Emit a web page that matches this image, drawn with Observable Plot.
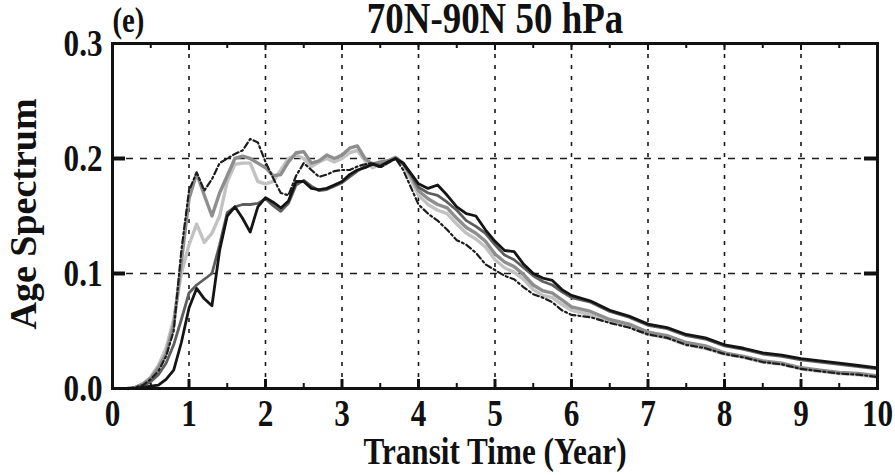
<!DOCTYPE html>
<html><head><meta charset="utf-8">
<script src="https://cdn.jsdelivr.net/npm/d3@7"></script>
<script src="https://cdn.jsdelivr.net/npm/@observablehq/plot@0.6"></script>
<style>body{margin:0;background:#fff} svg{display:block}</style>
</head><body><div id="chart"></div>
<script>
const title = "70N-90N 50 hPa";
const panelLabel = "(e)";
const xLabel = "Transit Time (Year)";
const yLabel = "Age Spectrum";
const xTicks = [0,1,2,3,4,5,6,7,8,9,10];
const xMinorTicks = [0.5,1.5,2.5,3.5,4.5,5.5,6.5,7.5,8.5,9.5];
const yTicks = [0,0.1,0.2,0.3];
const xGrid = [1,2,3,4,5,6,7,8,9];
const yGrid = [0.1,0.2];

const transitTime = [0.2,0.3,0.4,0.5,0.6,0.7,0.8,0.9,
  1.0,1.1,1.2,1.3,1.4,1.5,1.6,1.7,1.8,1.9,
  2.0,2.1,2.2,2.3,2.4,2.5,2.6,2.7,2.8,2.9,
  3.0,3.1,3.2,3.3,3.4,3.5,3.6,3.7,3.8,3.9,
  4.0,4.125,4.25,4.375,4.5,4.625,4.75,4.875,5.0,5.125,5.25,5.375,5.5,5.625,5.75,5.875,6.0,
  6.25,6.5,6.75,7.0,7.25,7.5,7.75,8.0,8.25,8.5,8.75,9.0,9.25,9.5,9.75,10.0];

const specBlack = [0,0,0.001,0.002,0.003,0.008,0.016,0.04,
  0.07,0.087,0.078,0.072,0.12,0.15,0.158,0.148,0.136,0.158,
  0.166,0.162,0.157,0.163,0.18,0.18,0.174,0.173,0.174,0.177,
  0.18,0.186,0.19,0.192,0.195,0.193,0.197,0.2,0.196,0.187,
  0.178,0.174,0.177,0.168,0.158,0.152,0.15,0.138,0.128,0.12,0.119,0.108,0.1,0.096,0.094,0.086,0.081,
  0.076,0.068,0.063,0.056,0.053,0.047,0.044,0.038,0.035,0.031,0.029,0.026,0.024,0.022,0.02,0.018];

const specDarkGray = [0,0,0.002,0.006,0.012,0.022,0.038,0.06,
  0.083,0.09,0.095,0.1,0.125,0.153,0.158,0.16,0.16,0.161,
  0.165,0.159,0.154,0.161,0.177,0.181,0.176,0.172,0.173,0.176,
  0.179,0.184,0.189,0.193,0.196,0.194,0.197,0.2,0.195,0.186,
  0.175,0.17,0.168,0.162,0.155,0.146,0.141,0.135,0.125,0.116,0.112,0.105,0.098,0.093,0.09,0.084,0.079,
  0.075,0.067,0.062,0.055,0.052,0.046,0.043,0.037,0.034,0.03,0.028,0.025,0.023,0.021,0.019,0.017];

const specMidGray = [0,0.001,0.004,0.009,0.018,0.03,0.055,0.11,
  0.165,0.187,0.168,0.15,0.17,0.185,0.2,0.202,0.2,0.196,
  0.192,0.185,0.186,0.197,0.205,0.206,0.196,0.198,0.203,0.2,
  0.203,0.209,0.211,0.2,0.195,0.197,0.198,0.201,0.196,0.185,
  0.172,0.165,0.16,0.157,0.148,0.14,0.135,0.128,0.117,0.11,0.106,0.099,0.09,0.085,0.083,0.077,0.071,
  0.067,0.06,0.056,0.049,0.046,0.04,0.037,0.031,0.028,0.024,0.022,0.018,0.016,0.014,0.013,0.011];

const specLightGray = [0,0.001,0.004,0.01,0.02,0.035,0.06,0.1,
  0.125,0.143,0.127,0.135,0.15,0.18,0.195,0.196,0.196,0.18,
  0.178,0.18,0.19,0.2,0.203,0.2,0.193,0.197,0.2,0.197,
  0.2,0.205,0.207,0.198,0.192,0.195,0.197,0.2,0.195,0.182,
  0.168,0.16,0.155,0.152,0.143,0.135,0.13,0.123,0.112,0.105,0.101,0.095,0.086,0.081,0.079,0.073,0.068,
  0.064,0.058,0.054,0.047,0.044,0.038,0.035,0.03,0.027,0.023,0.021,0.017,0.015,0.013,0.012,0.01];

const specDashDot = [0,0.001,0.003,0.008,0.015,0.028,0.05,0.12,
  0.172,0.188,0.172,0.182,0.196,0.2,0.204,0.207,0.217,0.214,
  0.197,0.183,0.17,0.168,0.185,0.196,0.19,0.184,0.186,0.189,
  0.19,0.19,0.193,0.195,0.196,0.192,0.196,0.2,0.19,0.175,
  0.16,0.152,0.146,0.138,0.129,0.125,0.118,0.108,0.103,0.098,0.095,0.088,0.082,0.079,0.075,0.068,0.064,
  0.062,0.057,0.053,0.047,0.044,0.038,0.035,0.03,0.027,0.023,0.021,0.017,0.015,0.013,0.012,0.01];

const seriesList = [
  {name: "lightGray", values: specLightGray, stroke: "#c2c2c2", width: 3.4, dash: null},
  {name: "midGray", values: specMidGray, stroke: "#8e8e8e", width: 3.4, dash: null},
  {name: "darkGray", values: specDarkGray, stroke: "#5e5e5e", width: 2.8, dash: null},
  {name: "dashDot", values: specDashDot, stroke: "#1c1c1c", width: 2.2, dash: "6,3,2,3"},
  {name: "black", values: specBlack, stroke: "#141414", width: 2.8, dash: null}
];

const W = 895, H = 475, mL = 112, mR = 18, mT = 43, mB = 87;
const plotW = W - mL - mR, plotH = H - mT - mB;
const font = "'Liberation Serif', 'Times New Roman', Times, serif";

const lineMarks = seriesList.map(s => {
  const rows = transitTime.map((t, i) => ({t, v: s.values[i]}));
  return Plot.line(rows, {x: "t", y: "v", stroke: s.stroke, strokeWidth: s.width,
    strokeDasharray: s.dash, strokeLinejoin: "round", strokeLinecap: "round"});
});

const chart = Plot.plot({
  width: W, height: H,
  marginLeft: mL, marginRight: mR, marginTop: mT, marginBottom: mB,
  style: {fontFamily: font, fontWeight: "bold", fontSize: "38px", background: "#fff", color: "#111"},
  x: {domain: [0, 10], ticks: xTicks, tickFormat: d => String(d), tickSize: 0, tickPadding: 11, label: null},
  y: {domain: [0, 0.3], ticks: yTicks, tickFormat: d3.format(".1f"), tickSize: 0, tickPadding: 10, label: null},
  marks: [
    Plot.ruleX(xGrid, {stroke: "#1a1a1a", strokeWidth: 1.6, strokeDasharray: "4,7"}),
    Plot.ruleY(yGrid, {stroke: "#1a1a1a", strokeWidth: 1.6, strokeDasharray: "7,7"}),
    ...lineMarks,
    Plot.ruleX(xTicks, {stroke: "#111", strokeWidth: 3, insetTop: plotH - 9}),
    Plot.ruleX(xMinorTicks, {stroke: "#111", strokeWidth: 2, insetTop: plotH - 5}),
    Plot.ruleX(xTicks, {stroke: "#111", strokeWidth: 2, insetBottom: plotH - 7}),
    Plot.ruleX(xMinorTicks, {stroke: "#111", strokeWidth: 2, insetBottom: plotH - 5}),
    Plot.ruleY(yGrid, {stroke: "#111", strokeWidth: 4, insetRight: plotW - 13}),
    Plot.ruleY(yGrid, {stroke: "#111", strokeWidth: 4, insetLeft: plotW - 13}),
    Plot.frame({stroke: "#111", strokeWidth: 3}),
    Plot.text([title], {frameAnchor: "top", lineAnchor: "middle", textAnchor: "middle", dy: -25, fontSize: 45, fontWeight: "bold", fill: "#111"}),
    Plot.text([panelLabel], {frameAnchor: "top-left", lineAnchor: "middle", textAnchor: "start", dx: 0, dy: -23, fontSize: 35, fontWeight: "bold", fill: "#111"}),
    Plot.text([xLabel], {frameAnchor: "bottom", lineAnchor: "middle", textAnchor: "middle", dy: 63, fontSize: 38, fontWeight: "bold", fill: "#111"}),
    Plot.text([yLabel], {frameAnchor: "left", lineAnchor: "middle", textAnchor: "middle", dx: -89, dy: -2, rotate: -90, fontSize: 38, fontWeight: "bold", fill: "#111"})
  ]
});

document.getElementById("chart").appendChild(chart);

// The reference figure's lettering is horizontally condensed; mimic it.
chart.querySelectorAll("text").forEach(t => {
  const tr = t.getAttribute("transform") || "";
  if (tr.includes("rotate")) return;
  const L = t.getComputedTextLength();
  if (L > 0) {
    t.setAttribute("textLength", (L * 0.82).toFixed(1));
    t.setAttribute("lengthAdjust", "spacingAndGlyphs");
  }
});
</script>
</body></html>
